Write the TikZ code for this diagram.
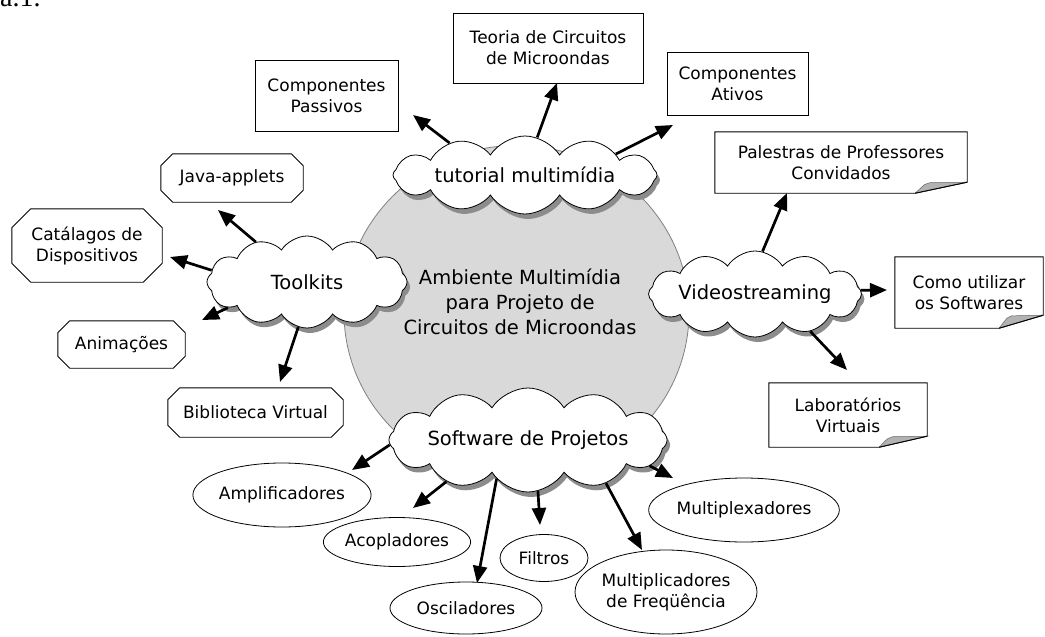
\documentclass[tikz,border=0pt]{standalone}
\usepackage{fontspec}
\setmainfont{DejaVu Sans}
\newfontfamily\capfont{Liberation Serif}
\usetikzlibrary{shapes.geometric,shapes.symbols,shadows,arrows.meta,calc}
\tikzset{
  arr/.style={line width=2.7pt, -{Triangle[length=17pt,width=14pt]}},
  bubble/.style={cloud, cloud puffs=12, cloud puff arc=115, cloud ignores aspect,
    draw=black, line width=0.8pt, fill=white, inner sep=0pt,
    drop shadow={shadow xshift=3pt, shadow yshift=-5pt, fill=black!45, opacity=1},
    font=\fontsize{19.5}{25}\selectfont, align=center},
  boxtxt/.style={font=\fontsize{17}{21}\selectfont, align=center, inner sep=0pt},
  rbox/.style={boxtxt, draw, line width=0.9pt},
  oval/.style={ellipse, draw, line width=0.8pt, boxtxt},
  outl/.style={line width=0.9pt},
  foldfill/.style={fill=black!30, draw=black!60, line width=0.5pt}
}
\newcommand\octpath[2]{%
  \draw[outl] ($(#1.north west)+(#2,0)$) -- ($(#1.north east)+(-#2,0)$)
    -- ($(#1.north east)+(0,#2)$) -- ($(#1.south east)+(0,-#2)$)
    -- ($(#1.south east)+(-#2,0)$) -- ($(#1.south west)+(#2,0)$)
    -- ($(#1.south west)+(0,-#2)$) -- ($(#1.north west)+(0,#2)$) -- cycle;}
\newcommand\notepath[3]{%
  \draw[outl] (#1.north west) -- (#1.north east) -- ($(#1.south east)+(0,-#3)$)
    -- ($(#1.south east)+(-#2,0)$) -- (#1.south west) -- cycle;
  \filldraw[foldfill] ($(#1.south east)+(-#2,0)$)
    .. controls ($(#1.south east)+(-0.8*#2,-0.9*#3)$) .. ($(#1.south east)+(-0.72*#2,-0.95*#3)$)
    -- ($(#1.south east)+(0,-#3)$) -- cycle;
  \draw[outl] ($(#1.south east)+(0,-#3)$) -- ($(#1.south east)+(-#2,0)$);}
\begin{document}
\begin{tikzpicture}[x=1pt,y=-1pt]
\fill[white] (0,0) rectangle (1045,637);
\useasboundingbox (0,0) rectangle (1045,637);
\node[anchor=base west, font=\capfont\fontsize{28}{30}\selectfont, inner sep=0pt] (cap) at (0,6) {a.1.};
% central disc
\node[ellipse, minimum width=345pt, minimum height=334pt, fill=black!15, draw=black!50, line width=0.8pt] (ring) at (516.5,312.5) {};
\node[font=\fontsize{19.5}{25}\selectfont, align=center] (amb) at (520,302) {Ambiente Multimídia\\para Projeto de\\Circuitos de Microondas};
% clouds
\node[bubble, minimum width=264pt, minimum height=78pt] (tut) at (525,175) {tutorial multimídia};
\node[bubble, minimum width=200pt, minimum height=92pt] (tool) at (307,282) {Toolkits};
\node[bubble, minimum width=205pt, minimum height=86pt] (vid) at (755,294) {Videostreaming};
\node[bubble, minimum width=262pt, minimum height=104pt] (soft) at (528,440) {Software de Projetos};
% rectangles
\node[rbox, minimum width=143pt, minimum height=71pt] (pas) at (326.5,95.5) {Componentes\\Passivos};
\node[rbox, minimum width=190pt, minimum height=70pt] (teo) at (548,48) {Teoria de Circuitos\\de Microondas};
\node[rbox, minimum width=141pt, minimum height=63pt] (ati) at (737.5,83.5) {Componentes\\Ativos};
% notes
\node[boxtxt, minimum width=252pt, minimum height=61pt] (pal) at (841,162.5) {Palestras de Professores\\Convidados};
\notepath{pal}{52}{11}
\node[boxtxt, minimum width=148pt, minimum height=71pt] (com) at (969,292.5) {Como utilizar\\os Softwares};
\notepath{com}{44}{13}
\node[boxtxt, minimum width=158pt, minimum height=64pt] (lab) at (848,415) {Laboratórios\\Virtuais};
\notepath{lab}{48}{11}
% octagons
\node[boxtxt, minimum width=142pt, minimum height=48pt] (jav) at (232,178) {Java-applets};
\octpath{jav}{12}
\node[boxtxt, minimum width=150pt, minimum height=73pt] (cat) at (87,245.5) {Catálagos de\\Dispositivos};
\octpath{cat}{19}
\node[boxtxt, minimum width=127pt, minimum height=47pt] (ani) at (121.5,344.5) {Animações};
\octpath{ani}{12}
\node[boxtxt, minimum width=175pt, minimum height=49pt] (bib) at (255.5,412.5) {Biblioteca Virtual};
\octpath{bib}{12}
% ellipses
\node[oval, minimum width=150pt, minimum height=64pt] (amp) at (282,495) {Amplificadores};
\node[oval, minimum width=125pt, minimum height=49pt] (aco) at (397,542) {Acopladores};
\node[oval, minimum width=88pt, minimum height=47pt] (fil) at (544,558) {Filtros};
\node[oval, minimum width=152pt, minimum height=52pt] (osc) at (466,608) {Osciladores};
\node[oval, minimum width=156pt, minimum height=64pt] (mpx) at (744,510) {Multiplexadores};
\node[oval, minimum width=174pt, minimum height=84pt] (mpc) at (666,592) {Multiplicadores\\de Freqüência};
% arrow tips
\coordinate (tPas) at (413,115);
\coordinate (tTeo) at (557,83);
\coordinate (tAti) at (673,125);
\coordinate (tJav) at (218,210);
\coordinate (tCat) at (170,257);
\coordinate (tAni) at (202,320);
\coordinate (tBib) at (280,382);
\coordinate (tPal) at (787,193);
\coordinate (tCom) at (887,290);
\coordinate (tLab) at (847,370);
\coordinate (tAmp) at (352,470);
\coordinate (tAco) at (413,508);
\coordinate (tOsc) at (477,583);
\coordinate (tFil) at (540,525);
\coordinate (tMpc) at (642,550);
\coordinate (tMpx) at (673,478);
% arrows
\draw[arr] (tut.157) -- (tPas);
\draw[arr] (tut.72) -- (tTeo);
\draw[arr] (tut.13) -- (tAti);
\draw[arr] (tool.142) -- (tJav);
\draw[arr] (tool.173) -- (tCat);
\draw[arr] (tool.198) -- (tAni);
\draw[arr] (tool.259) -- (tBib);
\draw[arr] (vid.80) -- (tPal);
\draw[arr] (vid.2) -- (tCom);
\draw[arr] (vid.326) -- (tLab);
\draw[arr] (soft.182) -- (tAmp);
\draw[arr] (soft.207) -- (tAco);
\draw[arr] (soft.231) -- (tOsc);
\draw[arr] (soft.281) -- (tFil);
\draw[arr] (soft.331) -- (tMpc);
\draw[arr] (soft.348) -- (tMpx);
\end{tikzpicture}
\end{document}
